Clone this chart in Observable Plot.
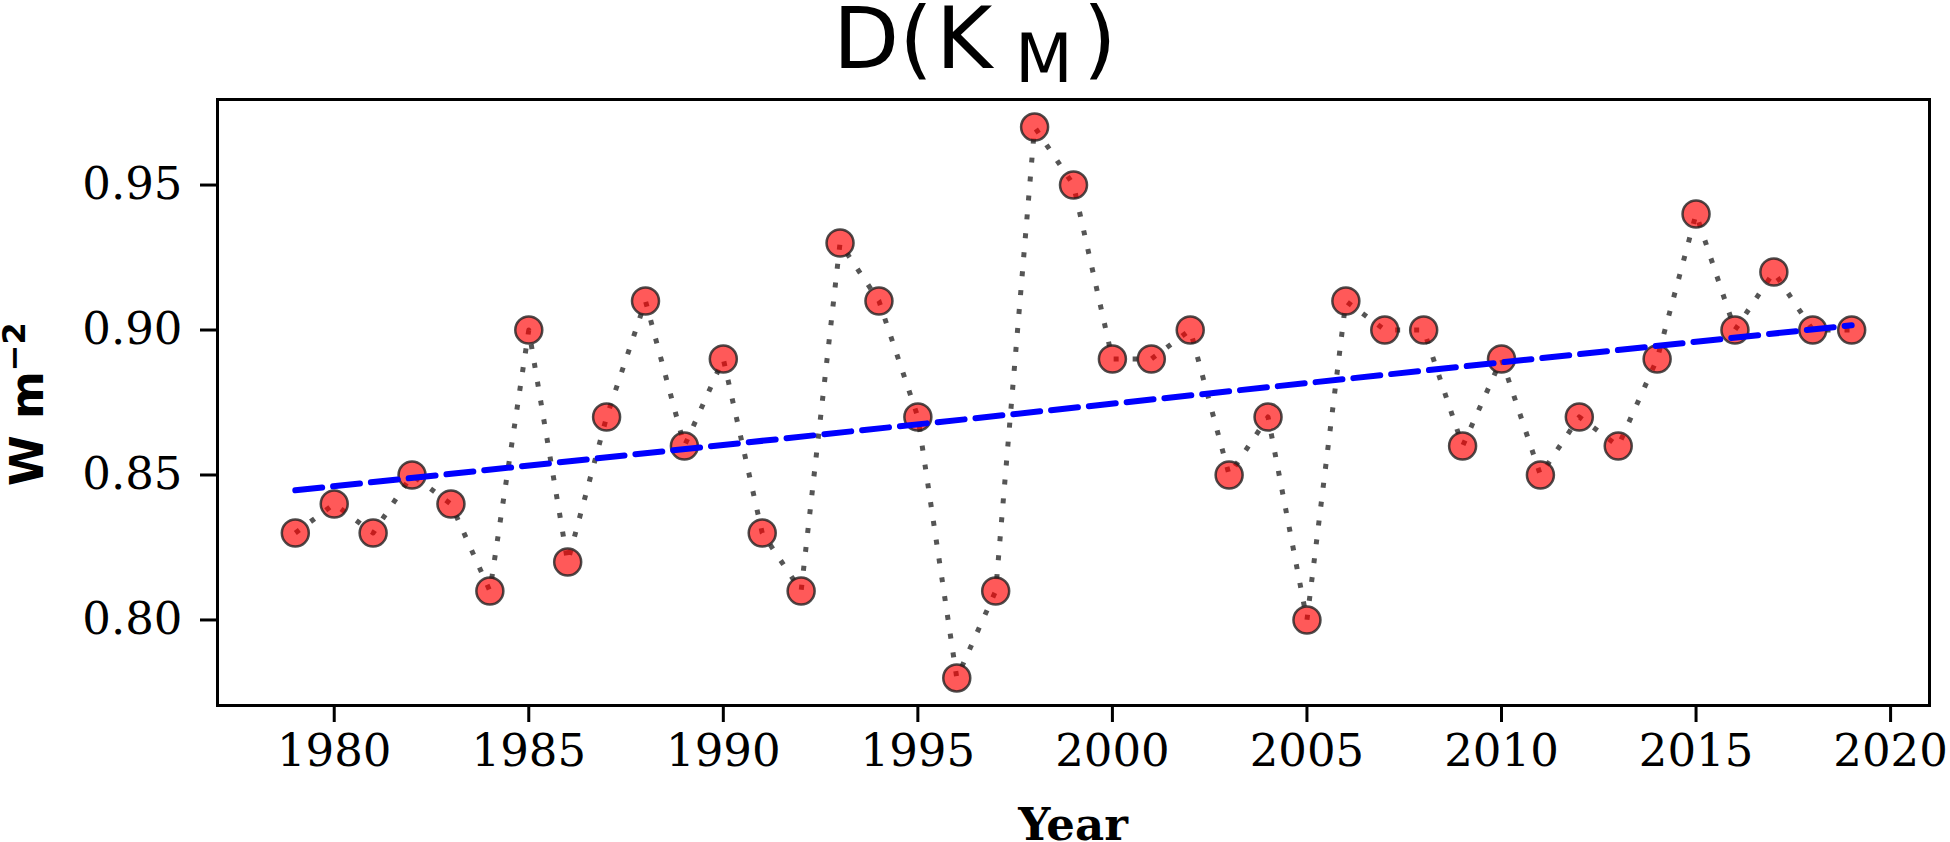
<!DOCTYPE html>
<html>
<head>
<meta charset="utf-8">
<script src="https://cdn.jsdelivr.net/npm/d3@7"></script>
<script src="https://cdn.jsdelivr.net/npm/@observablehq/plot@0.6"></script>
<style>
  html, body { margin: 0; padding: 0; background: white; }
</style>
</head>
<body>
<div id="chart"></div>
<script>
const years = [1979, 1980, 1981, 1982, 1983, 1984, 1985, 1986, 1987, 1988,
  1989, 1990, 1991, 1992, 1993, 1994, 1995, 1996, 1997, 1998,
  1999, 2000, 2001, 2002, 2003, 2004, 2005, 2006, 2007, 2008,
  2009, 2010, 2011, 2012, 2013, 2014, 2015, 2016, 2017, 2018, 2019];
const values = [0.83, 0.84, 0.83, 0.85, 0.84, 0.81, 0.90, 0.82, 0.87, 0.91,
  0.86, 0.89, 0.83, 0.81, 0.93, 0.91, 0.87, 0.78, 0.81, 0.97,
  0.95, 0.89, 0.89, 0.90, 0.85, 0.87, 0.80, 0.91, 0.90, 0.90,
  0.86, 0.89, 0.85, 0.87, 0.86, 0.89, 0.94, 0.90, 0.92, 0.90, 0.90];
const xTicks = [1980, 1985, 1990, 1995, 2000, 2005, 2010, 2015, 2020];
const yTicks = [0.80, 0.85, 0.90, 0.95];

const data = years.map((year, i) => ({year, value: values[i]}));

const plot = Plot.plot({
  width: 1950,
  height: 842,
  marginLeft: 217,
  marginRight: 21,
  marginTop: 99,
  marginBottom: 137,
  x: {domain: [1977, 2021]},
  y: {domain: [0.7705, 0.9795]},
  style: {fontFamily: "DejaVu Serif", fontSize: "45px", color: "black", background: "white"},
  marks: [
    Plot.axisX({ticks: xTicks, tickFormat: d => String(d), tickSize: 17, tickPadding: 12, strokeWidth: 3, label: null}),
    Plot.axisY({ticks: yTicks, tickFormat: d3.format(".2f"), tickSize: 17, tickPadding: 18, strokeWidth: 3, label: null}),
    Plot.line(data, {x: "year", y: "value", stroke: "#555", strokeWidth: 5, strokeDasharray: "5 14", strokeLinecap: "butt"}),
    Plot.dot(data, {x: "year", y: "value", r: 13.5, fill: "red", fillOpacity: 0.65, stroke: "#222", strokeOpacity: 0.8, strokeWidth: 2.5}),
    Plot.linearRegressionY(data, {x: "year", y: "value", stroke: "blue", strokeWidth: 6, strokeDasharray: "27 11", ci: 0}),
    Plot.frame({stroke: "black", strokeWidth: 3})
  ]
});

const svg = d3.select(plot);

// Title D(K_M)
const title = svg.append("text")
  .attr("font-family", "DejaVu Sans")
  .attr("text-anchor", "start")
  .attr("fill", "black")
  .attr("y", 68);
title.append("tspan").attr("x", 833).attr("font-size", 86).text("D(");
title.append("tspan").attr("x", 936).attr("font-size", 86).text("K");
title.append("tspan").attr("x", 1015).attr("font-size", 67).attr("dy", 14).text("M");
title.append("tspan").attr("x", 1083).attr("font-size", 86).attr("dy", -14).text(")");

// Y label W m^-2
const yl = svg.append("text")
  .attr("font-family", "DejaVu Sans")
  .attr("font-weight", "bold")
  .attr("fill", "black")
  .attr("text-anchor", "middle")
  .attr("transform", "translate(43,404) rotate(-90)");
yl.append("tspan").attr("font-size", 46).text("W m");
yl.append("tspan").attr("font-size", 32).attr("dy", -18).text("\u22122");

// X label Year
svg.append("text")
  .attr("font-family", "DejaVu Serif")
  .attr("font-weight", "bold")
  .attr("font-size", 45)
  .attr("fill", "black")
  .attr("text-anchor", "middle")
  .attr("x", 1073)
  .attr("y", 840)
  .text("Year");

document.getElementById("chart").appendChild(plot);
</script>
</body>
</html>
